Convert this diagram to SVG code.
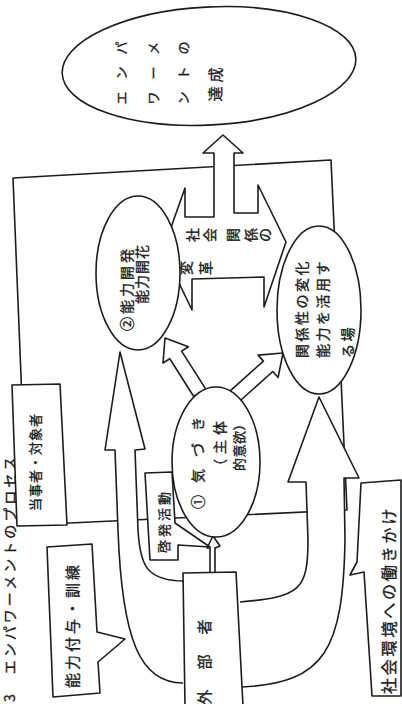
<svg xmlns="http://www.w3.org/2000/svg" width="402" height="704" viewBox="0 0 402 704">
<style>
.ln{fill:none;stroke:#1c1c1c;stroke-width:1.6;stroke-linejoin:round;stroke-linecap:round}
.sh{fill:#fff;stroke:#1c1c1c;stroke-width:1.6;stroke-linejoin:round}
.t{font-family:"Noto Sans CJK JP","Noto Sans CJK SC",sans-serif;fill:#1c1c1c;stroke:#1c1c1c;stroke-width:0.35}
</style>
<rect width="402" height="704" fill="#fff"/>
<g id="title">
<text class="t" font-size="14" letter-spacing="3" dominant-baseline="central" transform="translate(8.5,702) rotate(-90)">3　エンパワーメントのプロセス</text>
</g>
<g id="frame"><polygon class="ln" points="13,178 331,160 347,510 27,525"/></g>
<g id="connectors">
<path id="arrow-ability" class="sh" d="M183,683 C140,683 122,640 118,530 L115,450 L105,450 L120,352 L145,449 L135,450 L138,530 C140,565 146,581 185,581"/>
<path id="arrow-social" class="sh" d="M240,602 C300,597 308,590 308,540 L306,482 L288,482 L319,397 L359,478 L344,478 L345,540 C343,650 325,683 242,687"/>
<path id="arrow-small" class="sh" d="M210,572 L210,548 L207,548 L213,536 L220,546 L215,548 L215,572"/>
<polygon id="arrow-1-2" class="sh" points="193.9,396.7 169.8,358.7 163,363 165,338 188.4,346.8 181.6,351.1 205.8,389.1"/>
<polygon id="arrow-1-3" class="sh" points="229.9,391.1 263.4,361.1 258.1,355.1 283,353 278.1,377.5 272.8,371.5 239.3,401.5"/>
<polygon id="arrow-double" class="sh" points="185,188 163,250 192,310 192,279 264,277 264,307 286,242 258,185 258,213 234,213 234,153 243,153 223,135 203,153 214,153 214,217 185,217"/>
<text class="t" font-size="14" x="198.3 215.3 238.3 256.3 270.3" y="242" rotate="-90">社会関係の</text>
<text class="t" font-size="14" x="191.3 211.3" y="275" rotate="-90">変革</text>
</g>
<g id="goal">
<ellipse class="sh" cx="209" cy="66" rx="147" ry="59" transform="rotate(-3 209 66)"/>
<text class="t" font-size="13" letter-spacing="12" dominant-baseline="central" transform="translate(120,104.5) rotate(-90)">エンパ</text>
<text class="t" font-size="13" letter-spacing="12" dominant-baseline="central" transform="translate(152,104.5) rotate(-90)">ワーメ</text>
<text class="t" font-size="13" letter-spacing="12" dominant-baseline="central" transform="translate(182,104.5) rotate(-90)">ントの</text>
<text class="t" font-size="15" letter-spacing="4" dominant-baseline="central" transform="translate(214,101.5) rotate(-90)">達成</text>
</g>
<g id="node-ability">
<ellipse class="sh" cx="138" cy="273" rx="42" ry="77"/>
<text class="t" font-size="14" letter-spacing="3" dominant-baseline="central" transform="translate(126,331) rotate(-90)">②能力開発</text>
<text class="t" font-size="14" letter-spacing="1" dominant-baseline="central" transform="translate(141,304) rotate(-90)">能力開花</text>
</g>
<g id="node-relation">
<ellipse class="sh" cx="319" cy="310" rx="42" ry="84"/>
<text class="t" font-size="14" letter-spacing="2.5" dominant-baseline="central" transform="translate(301,358) rotate(-90)">関係性の変化</text>
<text class="t" font-size="14" letter-spacing="2.5" dominant-baseline="central" transform="translate(322,358) rotate(-90)">能力を活用す</text>
<text class="t" font-size="14" letter-spacing="2.5" dominant-baseline="central" transform="translate(347,358) rotate(-90)">る場</text>
</g>
<g id="node-awareness">
<ellipse class="sh" cx="216" cy="462" rx="44" ry="75"/>
<text class="t" font-size="14" letter-spacing="12" dominant-baseline="central" transform="translate(197,509) rotate(-90)">①気づき</text>
<text class="t" font-size="14" letter-spacing="5" dominant-baseline="central" transform="translate(219,473) rotate(-90)">（主体</text>
<text class="t" font-size="13" letter-spacing="0.5" dominant-baseline="central" transform="translate(238,471) rotate(-90)">的意欲）</text>
</g>
<g id="label-subject">
<polygon class="sh" points="12,385 60,384 67,525 17,526"/>
<text class="t" font-size="13" letter-spacing="1" dominant-baseline="central" transform="translate(34,511) rotate(-90)">当事者・対象者</text>
</g>
<g id="label-enlighten">
<polygon class="sh" points="145,473 172,472 175,523 210,547 178,545 178,560 150,560"/>
<text class="t" font-size="13" letter-spacing="3" dominant-baseline="central" transform="translate(163,553) rotate(-90)">啓発活動</text>
</g>
<g id="label-training">
<polygon class="sh" points="47,547 92,544 97,632 125,639 98,662 100,693 53,697"/>
<text class="t" font-size="15" letter-spacing="3" dominant-baseline="central" transform="translate(71,688) rotate(-90)">能力付与・訓練</text>
</g>
<g id="node-outsider">
<path class="sh" d="M185,706 L183,573 L236,572 L243,706"/>
<text class="t" font-size="15" letter-spacing="20" dominant-baseline="central" transform="translate(203,704.5) rotate(-90)">外部者</text>
</g>
<g id="label-environment">
<polygon class="sh" points="361,483 401,480 401,696 372,696 364,572 350,575 357,562"/>
<text class="t" font-size="16" letter-spacing="2.8" dominant-baseline="central" transform="translate(388,694) rotate(-90)">社会環境への働きかけ</text>
</g>
</svg>
